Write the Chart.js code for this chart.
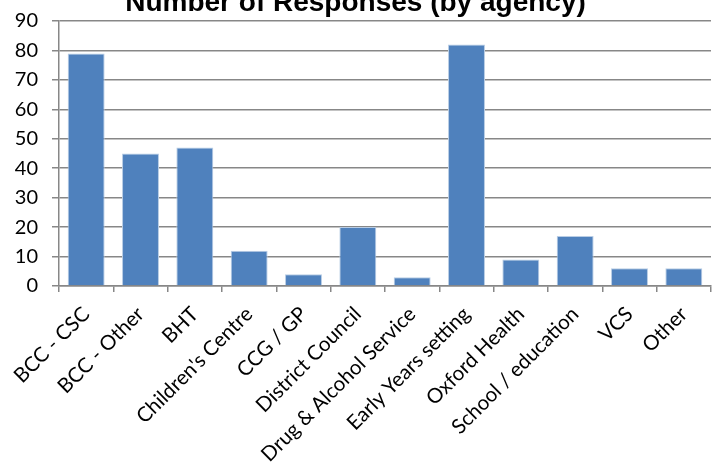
<!DOCTYPE html>
<html lang="en">
  <head>
    <meta charset="UTF-8" />
    <title>Number of Responses (by agency)</title>
    <style>
      html, body { margin: 0; padding: 0; background: #fff; overflow: hidden; width: 717px; height: 468px; }
      #wrap { position: absolute; left: 0; top: -14px; width: 717px; height: 520px; }
    </style>
  </head>
  <body>
    <div id="wrap"><canvas id="chart-1" width="717" height="520"></canvas></div>

    <script src="https://cdn.jsdelivr.net/npm/chart.js"></script>
    <script>
      // data
      const agencies = [
        "BCC - CSC", "BCC - Other", "BHT", "Children's Centre", "CCG / GP",
        "District Council", "Drug & Alcohol Service", "Early Years setting",
        "Oxford Health", "School / education", "VCS", "Other"
      ];
      const responses = [79, 45, 47, 12, 4, 20, 3, 82, 9, 17, 6, 6];
      const yTicks = [0, 10, 20, 30, 40, 50, 60, 70, 80, 90];

      const gridGrey = "#878787";

      const chart = new Chart(document.getElementById("chart-1"), {
        type: "bar",
        data: {
          labels: agencies,
          datasets: [{
            label: "Responses",
            data: responses,
            backgroundColor: "#4F81BD",
            borderColor: "#B9CDE5",
            borderWidth: 1,
            barPercentage: 0.68,
            categoryPercentage: 1,
          }],
        },
        options: {
          responsive: false,
          animation: false,
          devicePixelRatio: 1,
          layout: { padding: { left: 0, right: 6, top: 0, bottom: 0 } },
          plugins: {
            legend: { display: false },
            tooltip: { enabled: false },
            title: {
              display: true,
              text: "Number of Responses (by agency)",
              color: "#000",
              font: { family: "Liberation Sans", size: 28, weight: "bold", lineHeight: 0.943 },
              padding: { top: 3.6, bottom: 5 },
            },
          },
          scales: {
            x: {
              grid: { display: true, drawOnChartArea: false, offset: true, color: gridGrey, lineWidth: 1.5, tickLength: 6 },
              border: { color: gridGrey, width: 1.5 },
              ticks: {
                color: "#000",
                font: { family: "Lato", size: 20.5 },
                minRotation: 45,
                maxRotation: 45,
                autoSkip: false,
                padding: 10,
              },
              afterFit: (scale) => { scale.height = 220; },
            },
            y: {
              min: 0,
              max: 90,
              afterBuildTicks: (scale) => { scale.ticks = yTicks.map((v) => ({ value: v })); },
              grid: { color: gridGrey, lineWidth: 1.5, tickLength: 7 },
              border: { color: gridGrey, width: 1.5 },
              ticks: {
                color: "#000",
                font: { family: "Lato", size: 20 },
                padding: 14,
                autoSkip: false,
              },
              afterFit: (scale) => { scale.width = 59; },
            },
          },
        },
      });
    </script>
  </body>
</html>
